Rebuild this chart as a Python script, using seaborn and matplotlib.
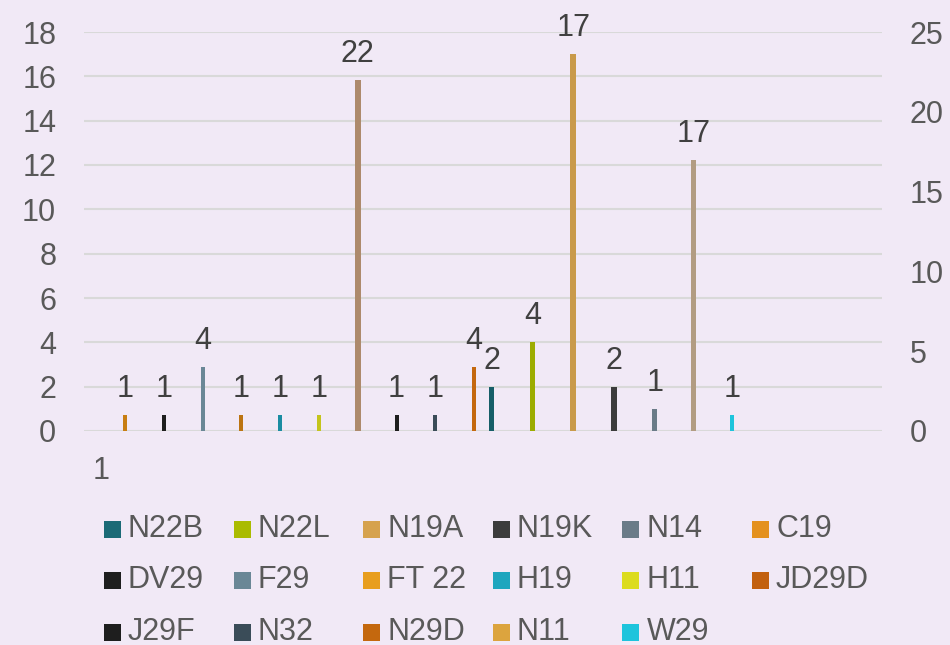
import matplotlib
matplotlib.use("Agg")
import matplotlib.pyplot as plt
from matplotlib.patches import Rectangle
import seaborn as sns

# Datos del gráfico (una sola categoría: "1")
categories = ["1"]

# series del eje principal (izquierdo)
prim_names = ["N22B", "N22L", "N19A", "N19K", "N14"]
prim_values = [2, 4, 17, 2, 1]

# series del eje secundario (derecho)
sec_names = ["C19", "DV29", "F29", "FT 22", "H19", "H11",
             "JD29D", "J29F", "N32", "N29D", "N11", "W29"]
sec_values = [1, 1, 4, 1, 1, 1, 22, 1, 1, 4, 17, 1]

left_ticks = list(range(0, 19, 2))
right_ticks = list(range(0, 26, 5))

legend_order = prim_names + sec_names

# colores de la leyenda
colores = {
    "N22B": "#1b6a76", "N22L": "#aabb00", "N19A": "#d6a24e", "N19K": "#3c3c3c",
    "N14": "#6a7b88", "C19": "#e4911e", "DV29": "#1e1e1e", "F29": "#6a8796",
    "FT 22": "#e89e1e", "H19": "#1ea6be", "H11": "#dcdc1e", "JD29D": "#c2600e",
    "J29F": "#1e1e1e", "N32": "#3a4c58", "N29D": "#c4680e", "N11": "#dca43e",
    "W29": "#1ec4dc",
}
# algunas barras se ven con otro tono que su muestra en la leyenda
color_barra = dict(colores)
color_barra.update({"C19": "#c87e12", "FT 22": "#bc7412", "H19": "#1a8ca2",
                    "H11": "#c4c41c", "JD29D": "#ad8a6c", "N11": "#b29c82",
                    "N19A": "#c99a4a", "N22L": "#9cac00", "N22B": "#165e68"})

# posiciones (en "huecos") dentro de la categoría
sec_slot = list(range(10)) + [14.65, 15.65]
prim_slot = [9.45 + 1.05 * i for i in range(len(prim_names))]
ancho = {"JD29D": 0.15, "N11": 0.15}

txt = "#595959"

sns.set_theme(style="white")
plt.rcParams["font.family"] = ["Liberation Sans", "DejaVu Sans"]

bg = "#f1e9f6"
fig = plt.figure(figsize=(9.5, 6.45), dpi=100, facecolor=bg)
ax1 = fig.add_axes([84 / 950, 1 - 431 / 645, (882 - 84) / 950, (431 - 32) / 645])
ax1.set_facecolor(bg)
ax2 = ax1.twinx()
ax2.patch.set_visible(False)

fs = 22

for nombre, val, s in zip(prim_names, prim_values, prim_slot):
    sns.barplot(x=[s], y=[val], color=color_barra[nombre], width=0.14,
                native_scale=True, orient="x", errorbar=None, saturation=1,
                linewidth=0, ax=ax1)
    ax1.bar_label(ax1.containers[-1], labels=[str(val)], padding=8,
                  fontsize=fs, color="#404040")

for nombre, val, s in zip(sec_names, sec_values, sec_slot):
    sns.barplot(x=[s], y=[val], color=color_barra[nombre],
                width=ancho.get(nombre, 0.1), native_scale=True, orient="x",
                errorbar=None, saturation=1, linewidth=0, ax=ax2)
    ax2.bar_label(ax2.containers[-1], labels=[str(val)], padding=8,
                  fontsize=fs, color="#404040")

ax1.set_xlim(-1.057, 19.51)
ax1.set_xticks([-0.62])
ax1.set_xticklabels(categories)
ax1.set_ylim(0, 18)
ax1.set_yticks(left_ticks)
ax2.set_ylim(0, 25)
ax2.set_yticks(right_ticks)

for ax in (ax1, ax2):
    ax.set_xlabel("")
    ax.set_ylabel("")
    for sp in ax.spines.values():
        sp.set_visible(False)
    ax.tick_params(axis="both", length=0, labelsize=fs, labelcolor=txt)
ax1.tick_params(axis="y", pad=20)
ax2.tick_params(axis="y", pad=20)
ax1.tick_params(axis="x", pad=18)

ax1.set_axisbelow(True)
ax1.yaxis.grid(True, color="#d9d9d9", linewidth=1.5)
ax1.xaxis.grid(False)
ax2.grid(False)

# leyenda manual en 3 filas x 6 columnas
for i, nombre in enumerate(legend_order):
    fila, col = divmod(i, 6)
    x0 = 104 + col * 129.6
    yc = 529 + fila * 51.5
    fig.add_artist(Rectangle((x0 / 950, 1 - (yc + 8.5) / 645), 17 / 950, 17 / 645,
                             transform=fig.transFigure, facecolor=colores[nombre],
                             edgecolor="none"))
    fig.text((x0 + 24) / 950, 1 - yc / 645, nombre, fontsize=fs, color=txt,
             va="center", ha="left")

fig.savefig("out.png", dpi=100, facecolor=bg)
